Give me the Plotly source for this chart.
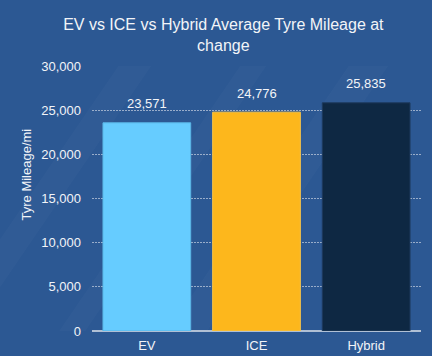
import plotly.graph_objects as go

categories = ["EV", "ICE", "Hybrid"]
mileage = [23571, 24776, 25835]
bar_colors = ["#66CCFF", "#FDB71C", "#0E2843"]
border_colors = ["#5AB6E6", "#F5C24A", "#1D3A5E"]
tick_vals = [0, 5000, 10000, 15000, 20000, 25000, 30000]
tick_text = ["0", "5,000", "10,000", "15,000", "20,000", "25,000", "30,000"]
y_title = "Tyre Mileage/mi"

FONT = "Liberation Sans, Arial, sans-serif"
TXT = "#F2F4F8"

fig = go.Figure()
fig.add_trace(go.Bar(
    x=categories, y=mileage,
    marker=dict(color=bar_colors, line=dict(color=border_colors, width=1)),
    hoverinfo="skip",
))

annotations = []
for c, v in zip(categories, mileage):
    annotations.append(dict(
        x=c, y=v, xref="x", yref="y", text=f"{v:,}", showarrow=False,
        yshift=19, font=dict(family=FONT, size=13, color=TXT),
    ))
annotations.append(dict(
    x=-0.198, y=0.59, xref="paper", yref="paper", text=y_title, showarrow=False,
    textangle=-90, xanchor="center", yanchor="middle",
    font=dict(family=FONT, size=13, color=TXT),
))

# subtle diagonal light bands in the background
shapes = []
for x0, w, op in [(0.08, 0.10, 0.025), (0.45, 0.08, 0.02), (0.78, 0.12, 0.025)]:
    shapes.append(dict(
        type="path", xref="paper", yref="paper", layer="below",
        path=f"M {x0},1 L {x0 + w},1 L {x0 + w - 0.55},0 L {x0 - 0.55},0 Z",
        fillcolor=f"rgba(255,255,255,{op})", line=dict(width=0),
    ))

fig.update_layout(
    width=432, height=356,
    margin=dict(l=92, r=11, t=66, b=25),
    paper_bgcolor="#2C5893",
    plot_bgcolor="rgba(0,0,0,0)",
    bargap=0.2,
    showlegend=False,
    title=dict(
        text="EV vs ICE vs Hybrid Average Tyre Mileage at<br>change",
        x=0.517, xanchor="center", y=0.915, yanchor="middle",
        font=dict(family=FONT, size=16, color=TXT),
    ),
    font=dict(family=FONT, size=13, color=TXT),
    annotations=annotations,
    shapes=shapes,
    xaxis=dict(
        showgrid=False, showline=False, zeroline=False, automargin=False,
        tickfont=dict(family=FONT, size=13, color=TXT),
        ticks="", ticklabelstandoff=5,
    ),
    yaxis=dict(
        range=[0, 30000], tickvals=tick_vals, ticktext=tick_text,
        showgrid=True, gridcolor="rgba(200,210,225,0.7)", griddash="2px,1px", gridwidth=1,
        zeroline=True, zerolinecolor="rgba(200,210,225,0.85)", zerolinewidth=1.5,
        showline=False, ticks="", ticklabelstandoff=10, automargin=False,
        tickfont=dict(family=FONT, size=13, color=TXT),
    ),
)

fig.write_html("out.html", config={"displayModeBar": False},
               post_script="document.body.style.margin='0';")
